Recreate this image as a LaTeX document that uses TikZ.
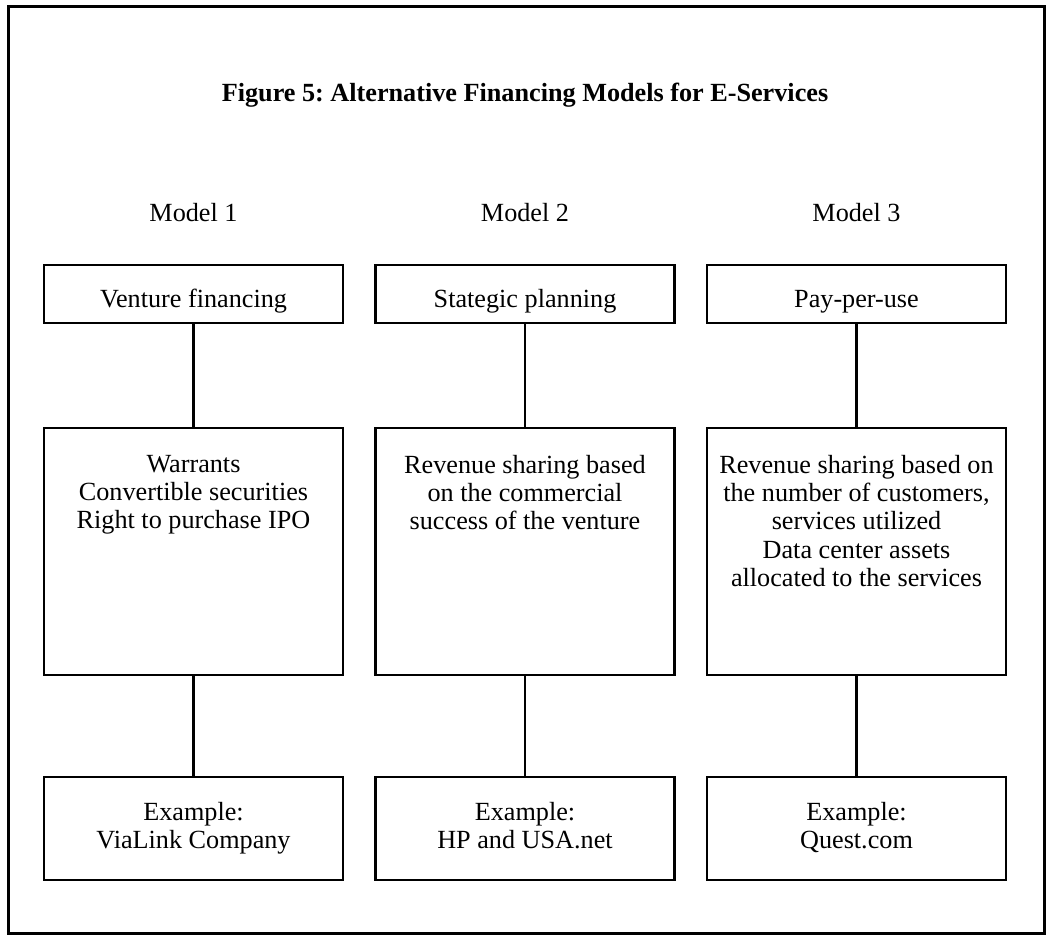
\documentclass[tikz,border=0pt]{standalone}
\usepackage{fontspec}
\setmainfont{Liberation Serif}
\usepackage{tikz}
\usetikzlibrary{positioning}
\frenchspacing

\begin{document}
\begin{tikzpicture}[x=0.5pt,y=-0.5pt,
  font=\fontsize{13.1}{14.15}\selectfont,
  headbox/.style={draw,line width=1.4pt,minimum width=149.5pt,minimum height=29pt,
    text height=15.5pt,text depth=2pt,inner sep=0pt,outer sep=0pt},
  midbox/.style={draw,line width=1.4pt,minimum width=149.5pt,minimum height=123.5pt,
    inner sep=0pt,outer sep=0pt},
  midtext/.style={align=center,inner sep=0pt,outer sep=0pt},
  examplebox/.style={draw,line width=1.4pt,minimum width=149.5pt,minimum height=51.5pt,
    align=center,inner sep=0pt,outer sep=0pt},
  link/.style={line width=1.4pt}]
\useasboundingbox (0,0) rectangle (1050,936);
\draw[line width=1.5pt] (8,7) rectangle (1044,933);

\node[anchor=base,font=\fontsize{13.1}{14.15}\selectfont\bfseries] (title) at (525,102)
  {Figure 5: Alternative Financing Models for E-Services};

\node[anchor=base] (model1) at (193.5,222) {Model 1};
\node[anchor=base] (model2) at (525,222) {Model 2};
\node[anchor=base] (model3) at (856.5,222) {Model 3};

\node[headbox] (venture) at (193.5,294) {Venture financing};
\node[headbox] (strategic) at (525,294) {Stategic planning};
\node[headbox] (payuse) at (856.5,294) {Pay-per-use};

\node[midbox] (warrants) at (193.5,551.5) {};
\node[midbox] (sharing) at (525,551.5) {};
\node[midbox] (usage) at (856.5,551.5) {};
\node[midtext,below=13.5pt of warrants.north] (warrantstext)
  {Warrants\\Convertible securities\\Right to purchase IPO};
\node[midtext,below=13.5pt of sharing.north] (sharingtext)
  {Revenue sharing based\\on the commercial\\success of the venture};
\node[midtext,below=13.5pt of usage.north] (usagetext)
  {Revenue sharing based on\\the number of customers,\\services utilized\\Data center assets\\allocated to the services};

\node[examplebox] (vialink) at (193.5,828.5) {Example:\\ViaLink Company};
\node[examplebox] (hpusa) at (525,828.5) {Example:\\HP and USA.net\vphantom{p}};
\node[examplebox] (quest) at (856.5,828.5) {Example:\\Quest.com\vphantom{p}};

\draw[link] (venture) -- (warrants);
\draw[link] (strategic) -- (sharing);
\draw[link] (payuse) -- (usage);
\draw[link] (warrants) -- (vialink);
\draw[link] (sharing) -- (hpusa);
\draw[link] (usage) -- (quest);
\end{tikzpicture}
\end{document}
